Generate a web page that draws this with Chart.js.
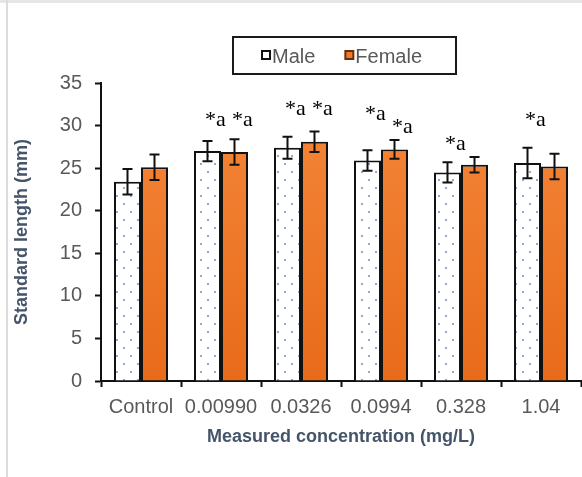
<!DOCTYPE html>
<html>
<head>
<meta charset="utf-8">
<title>Standard length by concentration</title>
<script src="https://cdn.jsdelivr.net/npm/chart.js@4.4.1/dist/chart.umd.min.js"></script>
<style>
    html, body { margin: 0; padding: 0; background: #fff; }
    canvas { display: block; }
</style>
</head>
<body>
<canvas id="lengthChart" width="582" height="477"></canvas>
<script>
// 数据
const concentrations = ['Control', '0.00990', '0.0326', '0.0994', '0.328', '1.04'];
const maleLength = [23.4, 27.0, 27.4, 25.9, 24.5, 25.6];
const maleError = [1.5, 1.2, 1.3, 1.2, 1.2, 1.8];
const femaleLength = [25.1, 26.9, 28.1, 27.2, 25.4, 25.2];
const femaleError = [1.5, 1.5, 1.2, 1.1, 0.9, 1.5];
// significance marks and the value at which each one sits
const maleSig = ['', '*a', '*a', '*a', '*a', '*a'];
const maleSigAt = [null, 29.9, 31.2, 30.6, 27.1, 29.9];
const femaleSig = ['', '*a', '*a', '*a', '', ''];
const femaleSigAt = [null, 29.9, 31.2, 29.1, null, null];
const yTicks = [0, 35, 5]; // min, max, step

const SANS = '"Liberation Sans", Arial, sans-serif';
const SERIF = '"Liberation Serif", "Times New Roman", serif';
const GREY = '#595959';
const TITLE = '#44546a';

// dotted fill for the male bars
function makeDots() {
    const tile = document.createElement('canvas');
    tile.width = 14;
    tile.height = 16;
    const c = tile.getContext('2d');
    c.fillStyle = '#ffffff';
    c.fillRect(0, 0, 14, 16);
    c.fillStyle = 'rgba(95,135,195,0.7)';
    c.fillRect(4, 3, 2, 2);
    c.fillRect(11, 11, 2, 2);
    return c.createPattern(tile, 'repeat');
}

const ctx = document.getElementById('lengthChart').getContext('2d');
const dots = makeDots();

function orangeFill(context) {
    const area = context.chart.chartArea;
    if (!area) return '#ef7a2a';
    const g = context.chart.ctx.createLinearGradient(0, area.top, 0, area.bottom);
    g.addColorStop(0, '#f5883c');
    g.addColorStop(1, '#e86b1a');
    return g;
}

// 背景和边框
const framePlugin = {
    id: 'frame',
    beforeDraw(chart) {
        const c = chart.ctx;
        c.save();
        c.fillStyle = '#ffffff';
        c.fillRect(0, 0, chart.width, chart.height);
        c.fillStyle = '#e6e6e6';
        c.fillRect(0, 0, chart.width, 3);
        c.fillStyle = '#dcdcdc';
        c.fillRect(6, 0, 2, chart.height);
        c.restore();
    }
};

// 误差线
const errorBarPlugin = {
    id: 'errorBars',
    afterDatasetsDraw(chart) {
        const c = chart.ctx;
        const y = chart.scales.y;
        const errs = [maleError, femaleError];
        c.save();
        c.strokeStyle = '#111';
        c.lineWidth = 2;
        chart.data.datasets.forEach((ds, i) => {
            chart.getDatasetMeta(i).data.forEach((bar, j) => {
                const v = ds.data[j];
                const top = y.getPixelForValue(v + errs[i][j]);
                const bot = y.getPixelForValue(v - errs[i][j]);
                const x = bar.x;
                c.beginPath();
                c.moveTo(x, top); c.lineTo(x, bot);
                c.moveTo(x - 5, top); c.lineTo(x + 5, top);
                c.moveTo(x - 5, bot); c.lineTo(x + 5, bot);
                c.stroke();
            });
        });
        c.restore();
    }
};

// 显著性标记
const sigPlugin = {
    id: 'sigMarks',
    afterDatasetsDraw(chart) {
        const c = chart.ctx;
        const y = chart.scales.y;
        const marks = [[maleSig, maleSigAt], [femaleSig, femaleSigAt]];
        c.save();
        c.fillStyle = '#000';
        c.font = '22px ' + SERIF;
        c.textAlign = 'center';
        c.textBaseline = 'alphabetic';
        marks.forEach(([text, at], i) => {
            chart.getDatasetMeta(i).data.forEach((bar, j) => {
                if (!text[j]) return;
                c.fillText(text[j], bar.x + 8, y.getPixelForValue(at[j]));
            });
        });
        c.restore();
    }
};

// 图例（带边框）
const legendPlugin = {
    id: 'boxLegend',
    afterDraw(chart) {
        const c = chart.ctx;
        const area = chart.chartArea;
        const w = 223, h = 37;
        const left = Math.round((area.left + area.right) / 2 + 3 - w / 2);
        const top = 37;
        c.save();
        c.strokeStyle = '#1a1a1a';
        c.lineWidth = 2;
        c.strokeRect(left, top, w, h);

        c.font = '20px ' + SANS;
        c.textBaseline = 'alphabetic';
        let x = left + 29;
        const fills = ['#ffffff', '#ef7a2a'];
        chart.data.datasets.forEach((ds, i) => {
            c.fillStyle = fills[i];
            c.fillRect(x, 51, 8, 8);
            c.lineWidth = 2;
            c.strokeStyle = i === 0 ? '#111' : '#6b2e08';
            c.strokeRect(x, 51, 8, 8);
            c.fillStyle = GREY;
            c.fillText(ds.label, x + 10, 63);
            x += 10 + c.measureText(ds.label).width + 30;
        });
        c.restore();
    }
};

new Chart(ctx, {
    type: 'bar',
    data: {
        labels: concentrations,
        datasets: [
            {
                label: 'Male',
                data: maleLength,
                backgroundColor: dots,
                borderColor: '#111',
                borderWidth: 2,
                borderSkipped: 'bottom'
            },
            {
                label: 'Female',
                data: femaleLength,
                backgroundColor: orangeFill,
                borderColor: '#111',
                borderWidth: 2,
                borderSkipped: 'bottom'
            }
        ]
    },
    options: {
        responsive: false,
        devicePixelRatio: 1,
        animation: false,
        categoryPercentage: 0.675,
        barPercentage: 1,
        layout: {
            padding: { left: 0, right: 1, top: 83, bottom: 0 }
        },
        plugins: {
            legend: { display: false },
            tooltip: { enabled: false }
        },
        scales: {
            x: {
                offset: true,
                grid: {
                    offset: true,
                    drawOnChartArea: false,
                    tickLength: 6,
                    tickWidth: 2,
                    tickColor: '#111'
                },
                border: { color: '#111', width: 2 },
                ticks: {
                    color: GREY,
                    font: { size: 20, family: SANS },
                    padding: 8,
                    maxRotation: 0,
                    autoSkip: false
                },
                title: {
                    display: true,
                    text: 'Measured concentration (mg/L)',
                    color: TITLE,
                    font: { size: 18, weight: 'bold', family: SANS },
                    padding: { top: 0, bottom: 29 }
                },
                afterFit(scale) { scale.height = 96; }
            },
            y: {
                min: yTicks[0],
                max: yTicks[1],
                grid: {
                    drawOnChartArea: false,
                    tickLength: 6,
                    tickWidth: 2,
                    tickColor: '#111'
                },
                border: { color: '#111', width: 2 },
                ticks: {
                    stepSize: yTicks[2],
                    color: GREY,
                    font: { size: 20, family: SANS },
                    padding: 13
                },
                title: {
                    display: true,
                    text: 'Standard length (mm)',
                    color: TITLE,
                    font: { size: 18, weight: 'bold', family: SANS },
                    padding: { top: 11, bottom: 0 }
                },
                afterFit(scale) { scale.width = 101; }
            }
        }
    },
    plugins: [framePlugin, errorBarPlugin, sigPlugin, legendPlugin]
});
</script>
</body>
</html>
